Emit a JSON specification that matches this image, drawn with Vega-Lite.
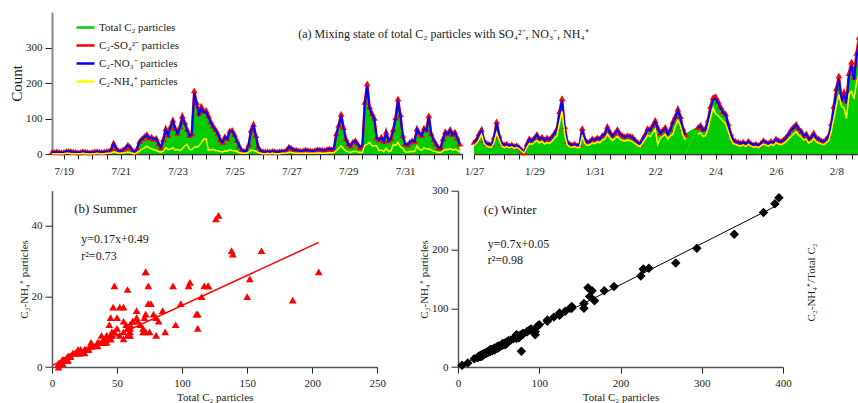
{
"$schema":"https://vega.github.io/schema/vega-lite/v6.json",
"background":"white",
"padding":{"left":9,"top":12,"right":0,"bottom":0},
"title":{"text":"(a) Mixing state of total C₂ particles with SO₄²⁻, NO₃⁻, NH₄⁺","anchor":"start","frame":"group","offset":-34,"dx":246.3,"baseline":"middle","fontSize":12,"font":"Liberation Serif","fontWeight":"normal","color":"#1a1a1a"},
"config":{"font":"Liberation Serif","view":{"stroke":null},
"axis":{"labelFont":"Liberation Serif","titleFont":"Liberation Serif","labelFontSize":11,"titleFontSize":11,"titleFontWeight":"normal","grid":false,"domainColor":"#555","domainWidth":1.5,"tickColor":"#222","labelColor":"#1a1a1a","titleColor":"#1a1a1a"},
"legend":{"labelFont":"Liberation Serif"},
"text":{"font":"Liberation Serif","color":"#1a1a1a"}},
"datasets":{
"summer":[
{"d":"2013-07-18T14:00","t":6,"s":6,"n":5,"h":1},{"d":"2013-07-18T16:00","t":6,"s":6,"n":5,"h":1},{"d":"2013-07-18T18:00","t":7,"s":7,"n":6,"h":1},{"d":"2013-07-18T20:00","t":6,"s":6,"n":5,"h":1},{"d":"2013-07-18T22:00","t":5,"s":5,"n":4,"h":1},
{"d":"2013-07-19T00:00","t":6,"s":6,"n":5,"h":1},{"d":"2013-07-19T02:00","t":8,"s":8,"n":7,"h":2},{"d":"2013-07-19T04:00","t":9,"s":9,"n":8,"h":2},{"d":"2013-07-19T06:00","t":8,"s":8,"n":7,"h":1},{"d":"2013-07-19T08:00","t":7,"s":7,"n":6,"h":1},{"d":"2013-07-19T10:00","t":6,"s":6,"n":5,"h":1},{"d":"2013-07-19T12:00","t":5,"s":5,"n":4,"h":1},{"d":"2013-07-19T14:00","t":6,"s":6,"n":5,"h":1},{"d":"2013-07-19T16:00","t":8,"s":8,"n":7,"h":2},{"d":"2013-07-19T18:00","t":7,"s":7,"n":6,"h":1},{"d":"2013-07-19T20:00","t":6,"s":6,"n":5,"h":1},{"d":"2013-07-19T22:00","t":5,"s":5,"n":4,"h":0},
{"d":"2013-07-20T00:00","t":6,"s":6,"n":5,"h":1},{"d":"2013-07-20T02:00","t":7,"s":7,"n":6,"h":1},{"d":"2013-07-20T04:00","t":8,"s":8,"n":7,"h":2},{"d":"2013-07-20T06:00","t":7,"s":7,"n":6,"h":1},{"d":"2013-07-20T08:00","t":6,"s":6,"n":5,"h":1},{"d":"2013-07-20T10:00","t":7,"s":7,"n":6,"h":1},{"d":"2013-07-20T12:00","t":8,"s":8,"n":7,"h":2},{"d":"2013-07-20T14:00","t":9,"s":9,"n":8,"h":2},{"d":"2013-07-20T16:00","t":14,"s":14,"n":13,"h":3},{"d":"2013-07-20T18:00","t":32,"s":31,"n":30,"h":6},{"d":"2013-07-20T20:00","t":18,"s":17,"n":17,"h":4},{"d":"2013-07-20T22:00","t":10,"s":10,"n":9,"h":2},
{"d":"2013-07-21T00:00","t":9,"s":9,"n":8,"h":2},{"d":"2013-07-21T02:00","t":13,"s":13,"n":12,"h":3},{"d":"2013-07-21T04:00","t":18,"s":17,"n":17,"h":4},{"d":"2013-07-21T06:00","t":27,"s":26,"n":25,"h":5},{"d":"2013-07-21T08:00","t":21,"s":20,"n":20,"h":4},{"d":"2013-07-21T10:00","t":10,"s":10,"n":9,"h":2},{"d":"2013-07-21T12:00","t":7,"s":7,"n":6,"h":1},{"d":"2013-07-21T14:00","t":18,"s":17,"n":17,"h":4},{"d":"2013-07-21T16:00","t":38,"s":37,"n":35,"h":9},{"d":"2013-07-21T18:00","t":45,"s":44,"n":42,"h":14},{"d":"2013-07-21T20:00","t":52,"s":50,"n":48,"h":17},{"d":"2013-07-21T22:00","t":58,"s":56,"n":54,"h":22},
{"d":"2013-07-22T00:00","t":47,"s":46,"n":44,"h":17},{"d":"2013-07-22T02:00","t":50,"s":49,"n":46,"h":14},{"d":"2013-07-22T04:00","t":44,"s":43,"n":41,"h":12},{"d":"2013-07-22T06:00","t":46,"s":45,"n":43,"h":10},{"d":"2013-07-22T08:00","t":30,"s":29,"n":28,"h":7},{"d":"2013-07-22T10:00","t":20,"s":19,"n":19,"h":5},{"d":"2013-07-22T12:00","t":43,"s":42,"n":40,"h":8},{"d":"2013-07-22T14:00","t":74,"s":72,"n":69,"h":18},{"d":"2013-07-22T16:00","t":57,"s":55,"n":53,"h":12},{"d":"2013-07-22T18:00","t":80,"s":78,"n":74,"h":14},{"d":"2013-07-22T20:00","t":99,"s":96,"n":92,"h":18},{"d":"2013-07-22T22:00","t":75,"s":73,"n":70,"h":10},
{"d":"2013-07-23T00:00","t":62,"s":60,"n":58,"h":13},{"d":"2013-07-23T02:00","t":80,"s":78,"n":74,"h":9},{"d":"2013-07-23T04:00","t":111,"s":108,"n":103,"h":15},{"d":"2013-07-23T06:00","t":93,"s":90,"n":86,"h":23},{"d":"2013-07-23T08:00","t":72,"s":70,"n":67,"h":27},{"d":"2013-07-23T10:00","t":55,"s":53,"n":51,"h":13},{"d":"2013-07-23T12:00","t":60,"s":58,"n":56,"h":12},{"d":"2013-07-23T14:00","t":185,"s":179,"n":172,"h":19},{"d":"2013-07-23T16:00","t":150,"s":146,"n":140,"h":20},{"d":"2013-07-23T18:00","t":120,"s":116,"n":112,"h":23},{"d":"2013-07-23T20:00","t":139,"s":135,"n":129,"h":32},{"d":"2013-07-23T22:00","t":126,"s":122,"n":117,"h":42},
{"d":"2013-07-24T00:00","t":128,"s":124,"n":119,"h":43},{"d":"2013-07-24T02:00","t":112,"s":109,"n":104,"h":11},{"d":"2013-07-24T04:00","t":95,"s":92,"n":88,"h":12},{"d":"2013-07-24T06:00","t":82,"s":80,"n":76,"h":13},{"d":"2013-07-24T08:00","t":72,"s":70,"n":67,"h":10},{"d":"2013-07-24T10:00","t":60,"s":58,"n":56,"h":9},{"d":"2013-07-24T12:00","t":42,"s":41,"n":39,"h":7},{"d":"2013-07-24T14:00","t":35,"s":34,"n":33,"h":6},{"d":"2013-07-24T16:00","t":52,"s":50,"n":48,"h":9},{"d":"2013-07-24T18:00","t":45,"s":44,"n":42,"h":8},{"d":"2013-07-24T20:00","t":68,"s":66,"n":63,"h":12},{"d":"2013-07-24T22:00","t":70,"s":68,"n":65,"h":10},
{"d":"2013-07-25T00:00","t":58,"s":56,"n":54,"h":9},{"d":"2013-07-25T02:00","t":40,"s":39,"n":37,"h":7},{"d":"2013-07-25T04:00","t":25,"s":24,"n":23,"h":4},{"d":"2013-07-25T06:00","t":12,"s":12,"n":11,"h":2},{"d":"2013-07-25T08:00","t":9,"s":9,"n":8,"h":2},{"d":"2013-07-25T10:00","t":10,"s":10,"n":9,"h":2},{"d":"2013-07-25T12:00","t":28,"s":27,"n":26,"h":5},{"d":"2013-07-25T14:00","t":70,"s":68,"n":65,"h":11},{"d":"2013-07-25T16:00","t":87,"s":84,"n":81,"h":10},{"d":"2013-07-25T18:00","t":55,"s":53,"n":51,"h":8},{"d":"2013-07-25T20:00","t":22,"s":21,"n":20,"h":4},{"d":"2013-07-25T22:00","t":10,"s":10,"n":9,"h":2},
{"d":"2013-07-26T00:00","t":8,"s":8,"n":7,"h":1},{"d":"2013-07-26T02:00","t":7,"s":7,"n":6,"h":1},{"d":"2013-07-26T04:00","t":8,"s":8,"n":7,"h":2},{"d":"2013-07-26T06:00","t":7,"s":7,"n":6,"h":1},{"d":"2013-07-26T08:00","t":9,"s":9,"n":8,"h":2},{"d":"2013-07-26T10:00","t":8,"s":8,"n":7,"h":1},{"d":"2013-07-26T12:00","t":7,"s":7,"n":6,"h":1},{"d":"2013-07-26T14:00","t":8,"s":8,"n":7,"h":1},{"d":"2013-07-26T16:00","t":9,"s":9,"n":8,"h":2},{"d":"2013-07-26T18:00","t":8,"s":8,"n":7,"h":2},{"d":"2013-07-26T20:00","t":12,"s":12,"n":11,"h":3},{"d":"2013-07-26T22:00","t":22,"s":21,"n":20,"h":5},
{"d":"2013-07-27T00:00","t":18,"s":17,"n":17,"h":4},{"d":"2013-07-27T02:00","t":12,"s":12,"n":11,"h":3},{"d":"2013-07-27T04:00","t":12,"s":12,"n":11,"h":2},{"d":"2013-07-27T06:00","t":10,"s":10,"n":9,"h":2},{"d":"2013-07-27T08:00","t":9,"s":9,"n":8,"h":2},{"d":"2013-07-27T10:00","t":10,"s":10,"n":9,"h":2},{"d":"2013-07-27T12:00","t":13,"s":13,"n":12,"h":3},{"d":"2013-07-27T14:00","t":11,"s":11,"n":10,"h":2},{"d":"2013-07-27T16:00","t":10,"s":10,"n":9,"h":2},{"d":"2013-07-27T18:00","t":9,"s":9,"n":8,"h":2},{"d":"2013-07-27T20:00","t":11,"s":11,"n":10,"h":2},{"d":"2013-07-27T22:00","t":14,"s":14,"n":13,"h":3},
{"d":"2013-07-28T00:00","t":13,"s":13,"n":12,"h":3},{"d":"2013-07-28T02:00","t":12,"s":12,"n":11,"h":2},{"d":"2013-07-28T04:00","t":11,"s":11,"n":10,"h":2},{"d":"2013-07-28T06:00","t":14,"s":14,"n":13,"h":3},{"d":"2013-07-28T08:00","t":16,"s":16,"n":15,"h":4},{"d":"2013-07-28T10:00","t":14,"s":14,"n":13,"h":3},{"d":"2013-07-28T12:00","t":18,"s":17,"n":17,"h":4},{"d":"2013-07-28T14:00","t":60,"s":58,"n":56,"h":10},{"d":"2013-07-28T16:00","t":85,"s":82,"n":79,"h":16},{"d":"2013-07-28T18:00","t":117,"s":113,"n":109,"h":23},{"d":"2013-07-28T20:00","t":78,"s":76,"n":73,"h":15},{"d":"2013-07-28T22:00","t":45,"s":44,"n":42,"h":8},
{"d":"2013-07-29T00:00","t":30,"s":29,"n":28,"h":6},{"d":"2013-07-29T02:00","t":25,"s":24,"n":23,"h":5},{"d":"2013-07-29T04:00","t":36,"s":35,"n":33,"h":7},{"d":"2013-07-29T06:00","t":40,"s":39,"n":37,"h":8},{"d":"2013-07-29T08:00","t":30,"s":29,"n":28,"h":6},{"d":"2013-07-29T10:00","t":20,"s":19,"n":19,"h":4},{"d":"2013-07-29T12:00","t":26,"s":25,"n":24,"h":5},{"d":"2013-07-29T14:00","t":152,"s":147,"n":141,"h":25},{"d":"2013-07-29T16:00","t":205,"s":199,"n":191,"h":27},{"d":"2013-07-29T18:00","t":138,"s":134,"n":128,"h":33},{"d":"2013-07-29T20:00","t":120,"s":116,"n":112,"h":23},{"d":"2013-07-29T22:00","t":105,"s":102,"n":98,"h":23},
{"d":"2013-07-30T00:00","t":48,"s":47,"n":45,"h":23},{"d":"2013-07-30T02:00","t":42,"s":41,"n":39,"h":9},{"d":"2013-07-30T04:00","t":50,"s":49,"n":46,"h":11},{"d":"2013-07-30T06:00","t":38,"s":37,"n":35,"h":7},{"d":"2013-07-30T08:00","t":65,"s":63,"n":60,"h":16},{"d":"2013-07-30T10:00","t":40,"s":39,"n":37,"h":7},{"d":"2013-07-30T12:00","t":46,"s":45,"n":43,"h":9},{"d":"2013-07-30T14:00","t":72,"s":70,"n":67,"h":27},{"d":"2013-07-30T16:00","t":106,"s":103,"n":99,"h":24},{"d":"2013-07-30T18:00","t":161,"s":156,"n":150,"h":33},{"d":"2013-07-30T20:00","t":115,"s":112,"n":107,"h":20},{"d":"2013-07-30T22:00","t":55,"s":53,"n":51,"h":17},
{"d":"2013-07-31T00:00","t":30,"s":29,"n":28,"h":6},{"d":"2013-07-31T02:00","t":28,"s":27,"n":26,"h":5},{"d":"2013-07-31T04:00","t":35,"s":34,"n":33,"h":7},{"d":"2013-07-31T06:00","t":40,"s":39,"n":37,"h":8},{"d":"2013-07-31T08:00","t":38,"s":37,"n":35,"h":7},{"d":"2013-07-31T10:00","t":74,"s":72,"n":69,"h":23},{"d":"2013-07-31T12:00","t":62,"s":60,"n":58,"h":13},{"d":"2013-07-31T14:00","t":55,"s":53,"n":51,"h":10},{"d":"2013-07-31T16:00","t":76,"s":74,"n":71,"h":18},{"d":"2013-07-31T18:00","t":71,"s":69,"n":66,"h":14},{"d":"2013-07-31T20:00","t":112,"s":109,"n":104,"h":15},{"d":"2013-07-31T22:00","t":60,"s":58,"n":56,"h":11},
{"d":"2013-08-01T00:00","t":42,"s":41,"n":39,"h":8},{"d":"2013-08-01T02:00","t":30,"s":29,"n":28,"h":6},{"d":"2013-08-01T04:00","t":20,"s":19,"n":19,"h":4},{"d":"2013-08-01T06:00","t":18,"s":17,"n":17,"h":4},{"d":"2013-08-01T08:00","t":45,"s":44,"n":42,"h":9},{"d":"2013-08-01T10:00","t":66,"s":64,"n":61,"h":13},{"d":"2013-08-01T12:00","t":60,"s":58,"n":56,"h":12},{"d":"2013-08-01T14:00","t":72,"s":70,"n":67,"h":15},{"d":"2013-08-01T16:00","t":58,"s":56,"n":54,"h":11},{"d":"2013-08-01T18:00","t":65,"s":63,"n":60,"h":14},{"d":"2013-08-01T20:00","t":48,"s":47,"n":45,"h":10},{"d":"2013-08-01T22:00","t":30,"s":29,"n":28,"h":6}
],
"winter":[
{"d":"2014-01-27T00:00","t":35,"s":34,"n":33,"h":24,"g":"a"},{"d":"2014-01-27T02:00","t":42,"s":41,"n":39,"h":30,"g":"a"},{"d":"2014-01-27T04:00","t":60,"s":58,"n":56,"h":40,"g":"a"},{"d":"2014-01-27T06:00","t":72,"s":70,"n":67,"h":55,"g":"a"},{"d":"2014-01-27T08:00","t":40,"s":39,"n":37,"h":30,"g":"a"},{"d":"2014-01-27T10:00","t":32,"s":31,"n":30,"h":22,"g":"a"},{"d":"2014-01-27T12:00","t":30,"s":29,"n":28,"h":20,"g":"a"},{"d":"2014-01-27T14:00","t":28,"s":27,"n":26,"h":19,"g":"a"},{"d":"2014-01-27T16:00","t":50,"s":49,"n":46,"h":33,"g":"a"},{"d":"2014-01-27T18:00","t":95,"s":92,"n":88,"h":60,"g":"a"},{"d":"2014-01-27T20:00","t":55,"s":53,"n":51,"h":40,"g":"a"},{"d":"2014-01-27T22:00","t":32,"s":31,"n":30,"h":22,"g":"a"},
{"d":"2014-01-28T00:00","t":28,"s":27,"n":26,"h":18,"g":"a"},{"d":"2014-01-28T02:00","t":30,"s":29,"n":28,"h":21,"g":"a"},{"d":"2014-01-28T04:00","t":25,"s":24,"n":23,"h":17,"g":"a"},{"d":"2014-01-28T06:00","t":28,"s":27,"n":26,"h":20,"g":"a"},{"d":"2014-01-28T08:00","t":24,"s":23,"n":22,"h":16,"g":"a"},{"d":"2014-01-28T10:00","t":26,"s":25,"n":24,"h":19,"g":"a"},{"d":"2014-01-28T12:00","t":20,"s":19,"n":19,"h":14,"g":"a"},{"d":"2014-01-28T14:00","t":12,"s":12,"n":11,"h":7,"g":"a"},{"d":"2014-01-28T16:00","t":5,"s":5,"n":4,"h":3,"g":"a"},{"d":"2014-01-28T18:00","t":30,"s":29,"n":28,"h":19,"g":"a"},{"d":"2014-01-28T20:00","t":45,"s":44,"n":42,"h":29,"g":"a"},{"d":"2014-01-28T22:00","t":40,"s":39,"n":37,"h":27,"g":"a"},
{"d":"2014-01-29T00:00","t":48,"s":47,"n":45,"h":33,"g":"a"},{"d":"2014-01-29T02:00","t":58,"s":56,"n":54,"h":38,"g":"a"},{"d":"2014-01-29T04:00","t":45,"s":44,"n":42,"h":31,"g":"a"},{"d":"2014-01-29T06:00","t":50,"s":49,"n":46,"h":36,"g":"a"},{"d":"2014-01-29T08:00","t":42,"s":41,"n":39,"h":28,"g":"a"},{"d":"2014-01-29T10:00","t":48,"s":47,"n":45,"h":32,"g":"a"},{"d":"2014-01-29T12:00","t":44,"s":43,"n":41,"h":30,"g":"a"},{"d":"2014-01-29T14:00","t":52,"s":50,"n":48,"h":36,"g":"a"},{"d":"2014-01-29T16:00","t":62,"s":60,"n":58,"h":45,"g":"a"},{"d":"2014-01-29T18:00","t":75,"s":73,"n":70,"h":52,"g":"a"},{"d":"2014-01-29T20:00","t":125,"s":121,"n":116,"h":88,"g":"a"},{"d":"2014-01-29T22:00","t":162,"s":157,"n":151,"h":120,"g":"a"},
{"d":"2014-01-30T00:00","t":80,"s":78,"n":74,"h":57,"g":"a"},{"d":"2014-01-30T02:00","t":38,"s":37,"n":35,"h":26,"g":"a"},{"d":"2014-01-30T04:00","t":30,"s":29,"n":28,"h":20,"g":"a"},{"d":"2014-01-30T06:00","t":28,"s":27,"n":26,"h":19,"g":"a"},{"d":"2014-01-30T08:00","t":30,"s":29,"n":28,"h":21,"g":"a"},{"d":"2014-01-30T10:00","t":26,"s":25,"n":24,"h":18,"g":"a"},{"d":"2014-01-30T12:00","t":28,"s":27,"n":26,"h":19,"g":"a"},{"d":"2014-01-30T14:00","t":75,"s":73,"n":70,"h":50,"g":"a"},{"d":"2014-01-30T16:00","t":45,"s":44,"n":42,"h":30,"g":"a"},{"d":"2014-01-30T18:00","t":35,"s":34,"n":33,"h":24,"g":"a"},{"d":"2014-01-30T20:00","t":38,"s":37,"n":35,"h":26,"g":"a"},{"d":"2014-01-30T22:00","t":45,"s":44,"n":42,"h":31,"g":"a"},
{"d":"2014-01-31T00:00","t":42,"s":41,"n":39,"h":29,"g":"a"},{"d":"2014-01-31T02:00","t":48,"s":47,"n":45,"h":34,"g":"a"},{"d":"2014-01-31T04:00","t":45,"s":44,"n":42,"h":32,"g":"a"},{"d":"2014-01-31T06:00","t":55,"s":53,"n":51,"h":39,"g":"a"},{"d":"2014-01-31T08:00","t":60,"s":58,"n":56,"h":42,"g":"a"},{"d":"2014-01-31T10:00","t":80,"s":78,"n":74,"h":56,"g":"a"},{"d":"2014-01-31T12:00","t":65,"s":63,"n":60,"h":46,"g":"a"},{"d":"2014-01-31T14:00","t":55,"s":53,"n":51,"h":38,"g":"a"},{"d":"2014-01-31T16:00","t":62,"s":60,"n":58,"h":44,"g":"a"},{"d":"2014-01-31T18:00","t":72,"s":70,"n":67,"h":50,"g":"a"},{"d":"2014-01-31T20:00","t":60,"s":58,"n":56,"h":42,"g":"a"},{"d":"2014-01-31T22:00","t":55,"s":53,"n":51,"h":38,"g":"a"},
{"d":"2014-02-01T00:00","t":52,"s":50,"n":48,"h":36,"g":"a"},{"d":"2014-02-01T02:00","t":55,"s":53,"n":51,"h":40,"g":"a"},{"d":"2014-02-01T04:00","t":54,"s":52,"n":50,"h":37,"g":"a"},{"d":"2014-02-01T06:00","t":50,"s":49,"n":46,"h":35,"g":"a"},{"d":"2014-02-01T08:00","t":42,"s":41,"n":39,"h":29,"g":"a"},{"d":"2014-02-01T10:00","t":35,"s":34,"n":33,"h":24,"g":"a"},{"d":"2014-02-01T12:00","t":30,"s":29,"n":28,"h":21,"g":"a"},{"d":"2014-02-01T14:00","t":45,"s":44,"n":42,"h":31,"g":"a"},{"d":"2014-02-01T16:00","t":58,"s":56,"n":54,"h":41,"g":"a"},{"d":"2014-02-01T18:00","t":75,"s":73,"n":70,"h":53,"g":"a"},{"d":"2014-02-01T20:00","t":72,"s":70,"n":67,"h":49,"g":"a"},{"d":"2014-02-01T22:00","t":85,"s":82,"n":79,"h":60,"g":"a"},
{"d":"2014-02-02T00:00","t":98,"s":95,"n":91,"h":70,"g":"a"},{"d":"2014-02-02T02:00","t":78,"s":76,"n":73,"h":27,"g":"a"},{"d":"2014-02-02T04:00","t":62,"s":60,"n":58,"h":44,"g":"a"},{"d":"2014-02-02T06:00","t":70,"s":68,"n":65,"h":50,"g":"a"},{"d":"2014-02-02T08:00","t":78,"s":76,"n":73,"h":55,"g":"a"},{"d":"2014-02-02T10:00","t":60,"s":58,"n":56,"h":42,"g":"a"},{"d":"2014-02-02T12:00","t":72,"s":70,"n":67,"h":51,"g":"a"},{"d":"2014-02-02T14:00","t":95,"s":92,"n":88,"h":55,"g":"a"},{"d":"2014-02-02T16:00","t":110,"s":107,"n":102,"h":78,"g":"a"},{"d":"2014-02-02T18:00","t":132,"s":128,"n":123,"h":95,"g":"a"},{"d":"2014-02-02T20:00","t":110,"s":107,"n":102,"h":80,"g":"a"},{"d":"2014-02-02T22:00","t":75,"s":73,"n":70,"h":53,"g":"a"},
{"d":"2014-02-03T00:00","t":58,"s":56,"n":54,"h":40,"g":"a"},
{"d":"2014-02-03T10:00","t":78,"s":76,"n":73,"h":55,"g":"b"},{"d":"2014-02-03T12:00","t":85,"s":82,"n":79,"h":60,"g":"b"},{"d":"2014-02-03T14:00","t":72,"s":70,"n":67,"h":50,"g":"b"},{"d":"2014-02-03T16:00","t":75,"s":73,"n":70,"h":52,"g":"b"},{"d":"2014-02-03T18:00","t":100,"s":97,"n":93,"h":72,"g":"b"},{"d":"2014-02-03T20:00","t":140,"s":136,"n":130,"h":103,"g":"b"},{"d":"2014-02-03T22:00","t":165,"s":160,"n":153,"h":130,"g":"b"},
{"d":"2014-02-04T00:00","t":168,"s":163,"n":156,"h":113,"g":"b"},{"d":"2014-02-04T02:00","t":155,"s":150,"n":144,"h":108,"g":"b"},{"d":"2014-02-04T04:00","t":138,"s":134,"n":128,"h":100,"g":"b"},{"d":"2014-02-04T06:00","t":125,"s":121,"n":116,"h":92,"g":"b"},{"d":"2014-02-04T08:00","t":118,"s":114,"n":110,"h":85,"g":"b"},{"d":"2014-02-04T10:00","t":90,"s":87,"n":84,"h":64,"g":"b"},{"d":"2014-02-04T12:00","t":60,"s":58,"n":56,"h":42,"g":"b"},{"d":"2014-02-04T14:00","t":42,"s":41,"n":39,"h":29,"g":"b"},{"d":"2014-02-04T16:00","t":38,"s":37,"n":35,"h":27,"g":"b"},{"d":"2014-02-04T18:00","t":35,"s":34,"n":33,"h":24,"g":"b"},{"d":"2014-02-04T20:00","t":32,"s":31,"n":30,"h":22,"g":"b"},{"d":"2014-02-04T22:00","t":36,"s":35,"n":33,"h":26,"g":"b"},
{"d":"2014-02-05T00:00","t":30,"s":29,"n":28,"h":21,"g":"b"},{"d":"2014-02-05T02:00","t":38,"s":37,"n":35,"h":27,"g":"b"},{"d":"2014-02-05T04:00","t":32,"s":31,"n":30,"h":22,"g":"b"},{"d":"2014-02-05T06:00","t":28,"s":27,"n":26,"h":19,"g":"b"},{"d":"2014-02-05T08:00","t":30,"s":29,"n":28,"h":21,"g":"b"},{"d":"2014-02-05T10:00","t":26,"s":25,"n":24,"h":18,"g":"b"},{"d":"2014-02-05T12:00","t":32,"s":31,"n":30,"h":23,"g":"b"},{"d":"2014-02-05T14:00","t":40,"s":39,"n":37,"h":28,"g":"b"},{"d":"2014-02-05T16:00","t":35,"s":34,"n":33,"h":25,"g":"b"},{"d":"2014-02-05T18:00","t":32,"s":31,"n":30,"h":22,"g":"b"},{"d":"2014-02-05T20:00","t":38,"s":37,"n":35,"h":27,"g":"b"},{"d":"2014-02-05T22:00","t":35,"s":34,"n":33,"h":24,"g":"b"},
{"d":"2014-02-06T00:00","t":45,"s":44,"n":42,"h":32,"g":"b"},{"d":"2014-02-06T02:00","t":40,"s":39,"n":37,"h":28,"g":"b"},{"d":"2014-02-06T04:00","t":38,"s":37,"n":35,"h":26,"g":"b"},{"d":"2014-02-06T06:00","t":42,"s":41,"n":39,"h":30,"g":"b"},{"d":"2014-02-06T08:00","t":50,"s":49,"n":46,"h":35,"g":"b"},{"d":"2014-02-06T10:00","t":60,"s":58,"n":56,"h":42,"g":"b"},{"d":"2014-02-06T12:00","t":72,"s":70,"n":67,"h":50,"g":"b"},{"d":"2014-02-06T14:00","t":80,"s":78,"n":74,"h":57,"g":"b"},{"d":"2014-02-06T16:00","t":88,"s":85,"n":82,"h":63,"g":"b"},{"d":"2014-02-06T18:00","t":75,"s":73,"n":70,"h":53,"g":"b"},{"d":"2014-02-06T20:00","t":68,"s":66,"n":63,"h":48,"g":"b"},{"d":"2014-02-06T22:00","t":55,"s":53,"n":51,"h":39,"g":"b"},
{"d":"2014-02-07T00:00","t":60,"s":58,"n":56,"h":42,"g":"b"},{"d":"2014-02-07T02:00","t":45,"s":44,"n":42,"h":31,"g":"b"},{"d":"2014-02-07T04:00","t":50,"s":49,"n":46,"h":35,"g":"b"},{"d":"2014-02-07T06:00","t":62,"s":60,"n":58,"h":44,"g":"b"},{"d":"2014-02-07T08:00","t":48,"s":47,"n":45,"h":34,"g":"b"},{"d":"2014-02-07T10:00","t":45,"s":44,"n":42,"h":31,"g":"b"},{"d":"2014-02-07T12:00","t":40,"s":39,"n":37,"h":28,"g":"b"},{"d":"2014-02-07T14:00","t":38,"s":37,"n":35,"h":26,"g":"b"},{"d":"2014-02-07T16:00","t":45,"s":44,"n":42,"h":32,"g":"b"},{"d":"2014-02-07T18:00","t":55,"s":53,"n":51,"h":38,"g":"b"},{"d":"2014-02-07T20:00","t":90,"s":87,"n":84,"h":65,"g":"b"},{"d":"2014-02-07T22:00","t":140,"s":136,"n":130,"h":100,"g":"b"},
{"d":"2014-02-08T00:00","t":192,"s":186,"n":179,"h":137,"g":"b"},{"d":"2014-02-08T02:00","t":228,"s":221,"n":212,"h":167,"g":"b"},{"d":"2014-02-08T04:00","t":160,"s":155,"n":149,"h":135,"g":"b"},{"d":"2014-02-08T06:00","t":180,"s":175,"n":167,"h":130,"g":"b"},{"d":"2014-02-08T08:00","t":155,"s":150,"n":144,"h":100,"g":"b"},{"d":"2014-02-08T10:00","t":235,"s":228,"n":219,"h":168,"g":"b"},{"d":"2014-02-08T12:00","t":268,"s":260,"n":249,"h":177,"g":"b"},{"d":"2014-02-08T14:00","t":225,"s":218,"n":209,"h":155,"g":"b"},{"d":"2014-02-08T16:00","t":294,"s":285,"n":273,"h":202,"g":"b"},{"d":"2014-02-08T18:00","t":340,"s":330,"n":316,"h":226,"g":"b"},{"d":"2014-02-08T20:00","t":376,"s":365,"n":350,"h":263,"g":"b"},{"d":"2014-02-08T22:00","t":390,"s":378,"n":363,"h":278,"g":"b"},
{"d":"2014-02-09T00:00","t":395,"s":383,"n":367,"h":288,"g":"b"}
],
"fitS":[{"x":0,"y":0.49},{"x":205,"y":35.34}],
"fitW":[{"x":0,"y":0.05},{"x":395,"y":276.55}]
},
"spacing":8.7,
"vconcat":[
{"hconcat":[
{"width":410,"height":142,
"data":{"name":"summer"},
"encoding":{"x":{"field":"d","type":"temporal","title":null,
"scale":{"domain":[{"year":2013,"month":7,"date":18,"hours":14},{"year":2013,"month":8,"date":2}]},
"axis":{"tickCount":28,"labelExpr":"hours(datum.value)==0 && month(datum.value)==6 && date(datum.value)%2==1 ? timeFormat(datum.value,'%-m/%-d') : ''","labelOverlap":false,"labelFlush":false,"tickSize":5,"labelPadding":6,"domainColor":"#333","domainWidth":1.5,"labelFontSize":11}}},
"layer":[
{"mark":{"type":"area","opacity":1},
"encoding":{"y":{"field":"t","type":"quantitative","title":"Count","scale":{"domain":[0,400],"nice":false},"axis":{"values":[0,100,200,300],"domainColor":"#888","domainWidth":2,"tickSize":7,"labelPadding":3,"titleFontSize":15,"titlePadding":1}},
"color":{"datum":"Total C₂ particles","scale":{"domain":["Total C₂ particles","C₂-SO₄²⁻ particles","C₂-NO₃⁻ particles","C₂-NH₄⁺ particles"],"range":["#00cc00","#ff0000","#0000ff","#ffff00"]},
"legend":{"orient":"none","legendX":23,"legendY":5,"title":null,"labelFont":"Liberation Serif","labelFontSize":11,"labelColor":"#1a1a1a","symbolSize":324,"rowPadding":2,"labelOffset":3,"symbolType":"stroke","symbolStrokeWidth":2.5}}}},
{"mark":{"type":"line","strokeWidth":2.5},"encoding":{"y":{"field":"s","type":"quantitative","title":"Count"},"color":{"datum":"C₂-SO₄²⁻ particles"}}},
{"mark":{"type":"point","shape":"triangle-up","filled":true,"size":45,"opacity":1},"encoding":{"y":{"field":"s","type":"quantitative","title":"Count"},"color":{"datum":"C₂-SO₄²⁻ particles"}}},
{"mark":{"type":"line","strokeWidth":2},"encoding":{"y":{"field":"n","type":"quantitative","title":"Count"},"color":{"datum":"C₂-NO₃⁻ particles"}}},
{"mark":{"type":"line","strokeWidth":1.5},"encoding":{"y":{"field":"h","type":"quantitative","title":"Count"},"color":{"datum":"C₂-NH₄⁺ particles"}}}
]},
{"width":392.6,"height":142,
"data":{"name":"winter"},
"encoding":{"x":{"field":"d","type":"temporal","title":null,
"scale":{"domain":[{"year":2014,"month":1,"date":27},{"year":2014,"month":2,"date":9}]},
"axis":{"tickCount":26,"labelExpr":"hours(datum.value)==0 && ((month(datum.value)==0 && date(datum.value)%2==1) || (month(datum.value)==1 && date(datum.value)%2==0)) ? timeFormat(datum.value,'%-m/%-d') : ''","labelOverlap":false,"labelFlush":false,"tickSize":5,"labelPadding":6,"domainColor":"#333","domainWidth":1.5,"labelFontSize":11}},
"detail":{"field":"g","type":"nominal"}},
"layer":[
{"mark":{"type":"area","color":"#00cc00","opacity":1},"encoding":{"y":{"field":"t","type":"quantitative","scale":{"domain":[0,400],"nice":false},"axis":null}}},
{"mark":{"type":"line","color":"#ff0000","strokeWidth":2.5},"encoding":{"y":{"field":"s","type":"quantitative"}}},
{"mark":{"type":"point","shape":"triangle-up","filled":true,"color":"#ff0000","size":45,"opacity":1},"encoding":{"y":{"field":"s","type":"quantitative"}}},
{"mark":{"type":"line","color":"#0000ff","strokeWidth":2},"encoding":{"y":{"field":"n","type":"quantitative"}}},
{"mark":{"type":"line","color":"#ffff00","strokeWidth":1.5},"encoding":{"y":{"field":"h","type":"quantitative"}}}
]}
],"spacing":-1},
{"hconcat":[
{"width":325.3,"height":176.4,
"layer":[
{"data":{"name":"summer"},"mark":{"type":"point","shape":"triangle-up","filled":true,"color":"#ff0000","size":60,"opacity":1},
"encoding":{"x":{"field":"t","type":"quantitative","title":"Total C₂ particles","scale":{"domain":[0,250],"nice":false},"axis":{"values":[0,50,100,150,200,250],"tickSize":6,"labelPadding":4,"labelFlush":false,"titlePadding":3}},
"y":{"field":"h","type":"quantitative","title":"C₂-NH₄⁺ particles","scale":{"domain":[0,50],"nice":false},"axis":{"values":[0,10,20,30,40,50],"tickSize":7,"labelPadding":3,"titlePadding":2}}}},
{"data":{"name":"fitS"},"mark":{"type":"line","color":"#ff0000","strokeWidth":1.5},
"encoding":{"x":{"field":"x","type":"quantitative","title":"Total C₂ particles"},"y":{"field":"y","type":"quantitative","title":"C₂-NH₄⁺ particles"}}},
{"data":{"values":[{}]},"mark":{"type":"text","text":"(b) Summer","fontSize":13,"align":"left","baseline":"middle"},"encoding":{"x":{"datum":17.1,"type":"quantitative"},"y":{"datum":44.7,"type":"quantitative"}}},
{"data":{"values":[{}]},"mark":{"type":"text","text":"y=0.17x+0.49","fontSize":12,"align":"left","baseline":"middle"},"encoding":{"x":{"datum":22.5,"type":"quantitative"},"y":{"datum":36.2,"type":"quantitative"}}},
{"data":{"values":[{}]},"mark":{"type":"text","text":"r²=0.73","fontSize":12,"align":"left","baseline":"middle"},"encoding":{"x":{"datum":22.5,"type":"quantitative"},"y":{"datum":31.4,"type":"quantitative"}}}
]},
{"width":325,"height":176.4,
"layer":[
{"data":{"name":"winter"},"mark":{"type":"point","shape":"diamond","filled":true,"color":"#000000","size":90,"opacity":1},
"encoding":{"x":{"field":"t","type":"quantitative","title":"Total C₂ particles","scale":{"domain":[0,400],"nice":false},"axis":{"values":[0,100,200,300,400],"tickSize":6,"labelPadding":4,"labelFlush":false,"titlePadding":3}},
"y":{"field":"h","type":"quantitative","title":"C₂-NH₄⁺ particles","scale":{"domain":[0,300],"nice":false},"axis":{"values":[0,50,100,150,200,250,300],"tickSize":7,"labelPadding":3,"titlePadding":2}}}},
{"data":{"name":"fitW"},"mark":{"type":"line","color":"#000000","strokeWidth":1},
"encoding":{"x":{"field":"x","type":"quantitative","title":"Total C₂ particles"},"y":{"field":"y","type":"quantitative","title":"C₂-NH₄⁺ particles"}}},
{"data":{"values":[{}]},"mark":{"type":"text","text":"(c) Winter","fontSize":13,"align":"left","baseline":"middle"},"encoding":{"x":{"datum":31.6,"type":"quantitative"},"y":{"datum":266.5,"type":"quantitative"}}},
{"data":{"values":[{}]},"mark":{"type":"text","text":"y=0.7x+0.05","fontSize":12,"align":"left","baseline":"middle"},"encoding":{"x":{"datum":36.6,"type":"quantitative"},"y":{"datum":208.7,"type":"quantitative"}}},
{"data":{"values":[{}]},"mark":{"type":"text","text":"r²=0.98","fontSize":12,"align":"left","baseline":"middle"},"encoding":{"x":{"datum":36.6,"type":"quantitative"},"y":{"datum":181.5,"type":"quantitative"}}},
{"data":{"values":[{}]},"mark":{"type":"text","text":"C₂-NH₄⁺/Total C₂","fontSize":11,"align":"center","baseline":"middle","angle":270},"encoding":{"x":{"datum":435.3,"type":"quantitative"},"y":{"datum":144,"type":"quantitative"}}}
]}
],"spacing":32}
]
}
